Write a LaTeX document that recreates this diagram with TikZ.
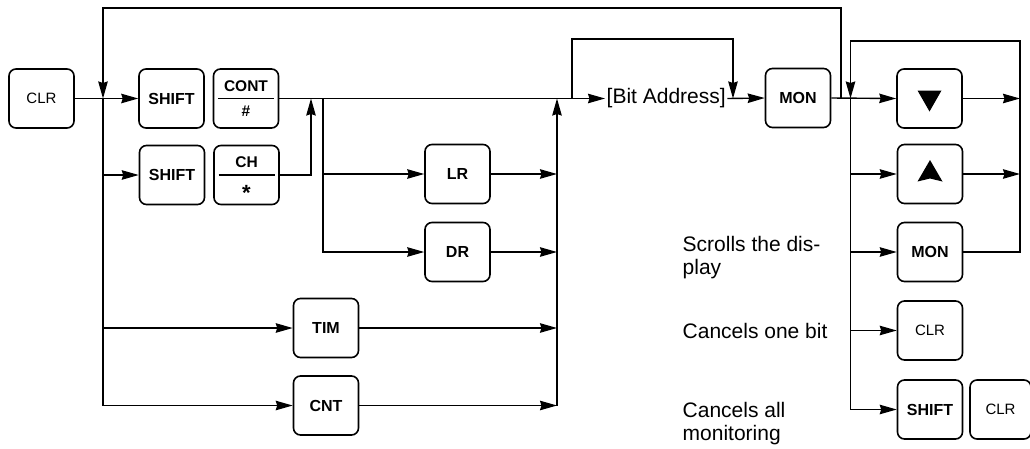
\documentclass[tikz,border=0pt]{standalone}
\usepackage{fontspec}
\setmainfont{Liberation Sans}
\usetikzlibrary{arrows.meta}
\begin{document}
\begin{tikzpicture}[x=1pt,y=-1pt,
  line width=1.4pt,
  arr/.style={-{Stealth[length=17pt,width=9.5pt,inset=1.5pt]}},
  key/.style={draw, line width=1.6pt, rounded corners=7pt, minimum width=65pt, minimum height=59pt, inner sep=0pt, font=\fontsize{16}{18}\selectfont\bfseries},
  keyr/.style={key, font=\fontsize{15}{18}\selectfont},
  lbl/.style={inner sep=0pt, font=\fontsize{15.5}{18}\selectfont\bfseries},
  note/.style={anchor=north west, align=left, inner sep=0pt, font=\fontsize{21}{23}\selectfont},
]
\useasboundingbox (0,0) rectangle (1030,448);

% keys
\node[keyr] (clrA) at (41.5,98.5) {CLR};
\node[key] (shA) at (171.5,98.5) {SHIFT};
\node[key] (cont) at (246,98.5) {};
\node[lbl] (contT) at (246,86) {CONT};
\node[lbl] (hash) at (246,111.5) {\#};
\draw ([xshift=-28pt]cont.center) -- ([xshift=28pt]cont.center);

\node[key] (shB) at (172,175) {SHIFT};
\node[key] (ch) at (246.5,175) {};
\node[lbl] (chT) at (246.5,162) {CH};
\node[lbl, font=\fontsize{22}{22}\selectfont\bfseries] (star) at (246.5,193) {*};
\draw ([xshift=-28pt]ch.center) -- ([xshift=28pt]ch.center);

\node[key] (lr) at (457.5,174) {LR};
\node[key] (dr) at (457.5,252) {DR};
\node[key] (tim) at (326,328) {TIM};
\node[key] (cnt) at (326,405.5) {CNT};

\node[inner sep=1pt, font=\fontsize{21}{24}\selectfont, anchor=west] (bit) at (605,98.5) {[Bit Address]};
\node[key] (mon) at (798,98) {MON};

\node[key] (dn) at (929.5,98.5) {};
\fill ([shift={(-12,-8)}]dn.center) -- ([shift={(12,-8)}]dn.center) -- ([shift={(0,13)}]dn.center) -- cycle;
\node[key] (up) at (930,174) {};
\fill ([shift={(-12.5,7.5)}]up.center) -- ([shift={(0,-14)}]up.center) -- ([shift={(12.5,7.5)}]up.center) -- ([shift={(0,4.5)}]up.center) -- cycle;
\node[key] (monB) at (930,252) {MON};
\node[keyr] (clrB) at (930,330.5) {CLR};
\node[key] (shC) at (930,409.5) {SHIFT};
\node[keyr, minimum width=61pt] (clrC) at (1000.5,409.5) {CLR};

% junctions
\coordinate (jA) at (103,98.5);
\coordinate (topL) at (103,8);
\coordinate (jCH) at (311,98.5);
\coordinate (jB) at (323,98.5);
\coordinate (jC) at (557,98.5);
\coordinate (jD) at (572,98.5);
\coordinate (bitTop) at (733,39);
\coordinate (jE) at (733,98.5);
\coordinate (jM) at (841,98.5);
\coordinate (jR) at (850.5,98.5);
\coordinate (rTop) at (1020,41);

% main row
\draw[arr] (clrA.east) -- (shA.west);
\draw[arr] (cont.east) -- (bit.west);
\draw[arr] (bit.east) -- (mon.west);
\draw[arr] (mon.east) -- (dn.west);

% top return loop
\draw[arr] (jM) -- (jM |- topL) -- (topL) -- (jA);

% left vertical
\draw[arr] (jA) |- (cnt.west);
\draw[arr] (jA |- shB.west) -- (shB.west);
\draw[arr] (jA |- tim.west) -- (tim.west);

% CH to main
\draw[arr] (ch.east) -| (jCH);

% LR / DR branch
\draw[arr] (jB) |- (dr.west);
\draw[arr] (jB |- lr.west) -- (lr.west);

% collector
\draw[arr] (lr.east) -- (jC |- lr.east);
\draw[arr] (dr.east) -- (jC |- dr.east);
\draw[arr] (tim.east) -- (jC |- tim.east);
\draw[arr] (cnt.east) -- (jC |- cnt.east);
\draw[arr] (jC |- cnt.east) -- (jC);

% bit address loop
\draw[arr] (jD) |- (bitTop) -- (jE);

% right loop
\draw[arr] (monB.east) -| (rTop) -| (jR);
\draw[arr] (jR) |- (shC.west);
\draw[arr] (jR |- up.west) -- (up.west);
\draw[arr] (jR |- monB.west) -- (monB.west);
\draw[arr] (jR |- clrB.west) -- (clrB.west);
\draw[arr] (dn.east) -- (rTop |- dn.east);
\draw[arr] (up.east) -- (rTop |- up.east);

% notes
\node[note] (t1) at (682,236) {Scrolls the dis-\\play};
\node[note] (t2) at (682,323) {Cancels one bit};
\node[note] (t3) at (682,402) {Cancels all\\monitoring};
\end{tikzpicture}
\end{document}
